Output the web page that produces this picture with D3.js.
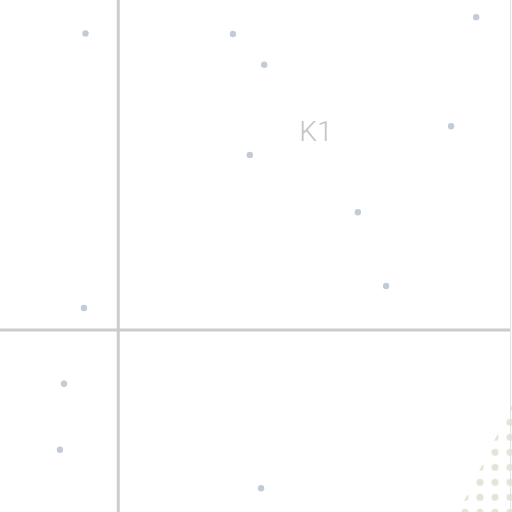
<!DOCTYPE html>
<html>
<head>
<meta charset="utf-8">
<script src="https://cdn.jsdelivr.net/npm/d3@7"></script>
<style>
  html, body { margin: 0; padding: 0; background: #fff; }
  svg { display: block; }
</style>
</head>
<body>
<div id="chart"></div>
<script>
// Scatter values (x, y)
const xValues = [-6.4, 22.4, 28.5, 69.9, 65.0, 25.7, 46.8, 52.3, -6.7, -10.6, -11.4, 27.9];
const yValues = [57.9, 57.8, 51.8, 61.1, 39.8, 34.2, 23.0, 8.6, 4.3, -10.5, -23.4, -30.9];
// Quadrant label
const quadLabels = ["K1"];
const quadLabelX = [38.6];
const quadLabelY = [38.7];
// Dotted region boundary (x, y)
const zoneX = [60, 82, 82];
const zoneY = [-48.5, -4.5, -48.5];

const width = 512, height = 512;

const x = d3.scaleLinear().domain([-23.1, 76.9]).range([0, width]);
const y = d3.scaleLinear().domain([-35.55, 64.45]).range([height, 0]);

const svg = d3.select("#chart")
    .append("svg")
    .attr("width", width)
    .attr("height", height);

// dot pattern for the shaded zone
const defs = svg.append("defs");
const pattern = defs.append("pattern")
    .attr("id", "dots")
    .attr("patternUnits", "userSpaceOnUse")
    .attr("x", -7.5)
    .attr("y", -5.2)
    .attr("width", 15)
    .attr("height", 15);
pattern.append("circle")
    .attr("cx", 7.5)
    .attr("cy", 7.5)
    .attr("r", 3.5)
    .attr("fill", "#dfe5d7");

const zone = zoneX.map((d, i) => [x(d), y(zoneY[i])]);
svg.append("path")
    .attr("d", d3.line()(zone) + "Z")
    .attr("fill", "url(#dots)");

// quadrant lines
svg.append("line")
    .attr("x1", x(0)).attr("x2", x(0))
    .attr("y1", 0).attr("y2", height)
    .attr("stroke", "#cccccc")
    .attr("stroke-width", 3);
svg.append("line")
    .attr("x1", 0).attr("x2", width - 1)
    .attr("y1", y(0)).attr("y2", y(0))
    .attr("stroke", "#cccccc")
    .attr("stroke-width", 3);
// right border
svg.append("line")
    .attr("x1", width - 1.5).attr("x2", width - 1.5)
    .attr("y1", 0).attr("y2", height)
    .attr("stroke", "#e2e2e2")
    .attr("stroke-width", 1);

// quadrant label
svg.selectAll("text.quad")
    .data(quadLabels)
    .join("text")
    .attr("class", "quad")
    .attr("x", (d, i) => x(quadLabelX[i]))
    .attr("y", (d, i) => y(quadLabelY[i]))
    .attr("text-anchor", "middle")
    .attr("dominant-baseline", "central")
    .style("font-family", "Roboto, 'Noto Sans', sans-serif")
    .style("font-weight", 300)
    .style("font-size", "28px")
    .style("fill", "#c4c4c4")
    .text(d => d);

// points
svg.append("g")
    .selectAll("circle")
    .data(xValues)
    .join("circle")
    .attr("cx", d => x(d))
    .attr("cy", (d, i) => y(yValues[i]))
    .attr("r", 3.2)
    .attr("fill", "#c3ccd6");
</script>
</body>
</html>
